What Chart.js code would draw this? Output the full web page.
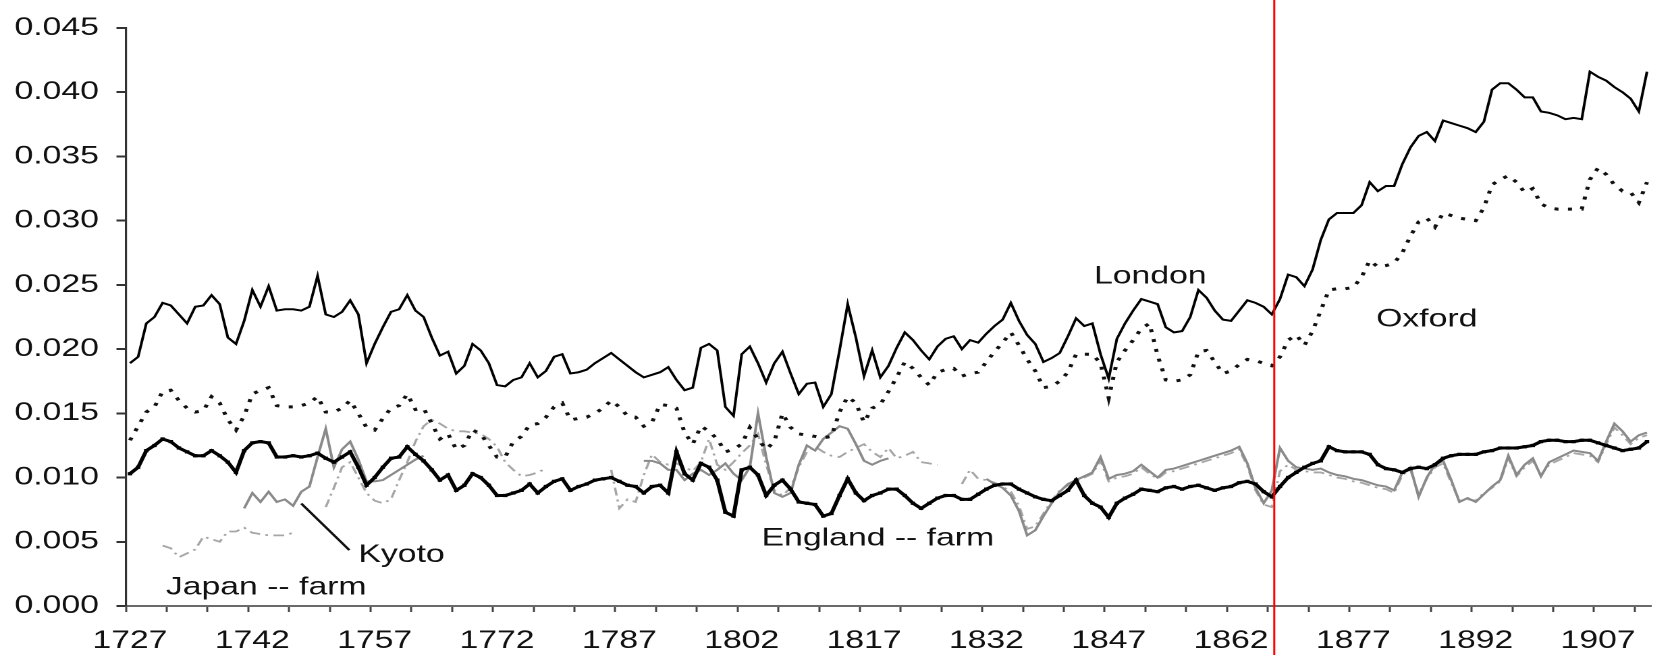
<!DOCTYPE html>
<html>
<head>
<meta charset="utf-8">
<script src="https://cdn.jsdelivr.net/npm/chart.js@4.4.1/dist/chart.umd.min.js"></script>
<style>
  html, body { margin: 0; padding: 0; background: #fff; overflow: hidden; width: 1663px; height: 655px; }
  #wrap { position: absolute; left: 0; top: 0; width: 1234px; height: 655px; transform: scaleX(1.35); transform-origin: 0 0; }
</style>
</head>
<body>
<div id="wrap"><canvas id="c"></canvas></div>
<script>
// ---- categories ----
const firstYear = 1727;
const lastYear = 1913;
const years = Array.from({ length: lastYear - firstYear + 1 }, (_, i) => firstYear + i);

// ---- tick labels ----
const xTickLabels = ['1727','1742','1757','1772','1787','1802','1817','1832','1847','1862','1877','1892','1907'];
const yTickValues = [0, 0.005, 0.010, 0.015, 0.020, 0.025, 0.030, 0.035, 0.040, 0.045];

// ---- series (1727 ... 1913) ----
const london = [
  0.0189,0.0194,0.0220,0.0225,0.0236,0.0234,0.0227,0.0220,0.0233,0.0234,
  0.0242,0.0235,0.0209,0.0204,0.0222,0.0246,0.0233,0.0249,0.0230,0.0231,
  0.0231,0.0230,0.0233,0.0257,0.0227,0.0225,0.0229,0.0238,0.0227,0.0189,
  0.0204,0.0217,0.0229,0.0231,0.0242,0.0230,0.0225,0.0209,0.0195,0.0198,
  0.0181,0.0187,0.0204,0.0199,0.0189,0.0172,0.0171,0.0176,0.0178,0.0189,
  0.0178,0.0183,0.0194,0.0196,0.0181,0.0182,0.0184,0.0189,0.0193,0.0197,
  0.0192,0.0187,0.0182,0.0178,0.0180,0.0182,0.0186,0.0176,0.0168,0.0170,
  0.0201,0.0204,0.0199,0.0155,0.0148,0.0196,0.0202,0.0189,0.0174,0.0189,
  0.0198,0.0181,0.0165,0.0173,0.0174,0.0155,0.0165,0.0199,0.0235,0.0209,
  0.0179,0.0199,0.0178,0.0187,0.0201,0.0213,0.0207,0.0199,0.0192,0.0202,
  0.0208,0.0210,0.0200,0.0207,0.0205,0.0212,0.0218,0.0223,0.0236,0.0222,
  0.0211,0.0204,0.0190,0.0193,0.0197,0.0210,0.0224,0.0218,0.0220,0.0196,
  0.0177,0.0208,0.0220,0.0230,0.0239,0.0237,0.0235,0.0217,0.0213,0.0214,
  0.0225,0.0246,0.0240,0.0230,0.0223,0.0222,0.0230,0.0238,0.0236,0.0233,
  0.0227,0.0239,0.0258,0.0256,0.0249,0.0262,0.0285,0.0301,0.0306,0.0306,
  0.0306,0.0312,0.0330,0.0323,0.0327,0.0327,0.0344,0.0357,0.0366,0.0369,
  0.0362,0.0378,0.0376,0.0374,0.0372,0.0369,0.0377,0.0402,0.0407,0.0407,
  0.0402,0.0396,0.0396,0.0385,0.0384,0.0382,0.0379,0.0380,0.0379,0.0416,
  0.0412,0.0409,0.0404,0.0400,0.0395,0.0385,0.0416
];
const oxford = [
  0.0129,0.0140,0.0151,0.0155,0.0167,0.0168,0.0160,0.0154,0.0151,0.0152,
  0.0163,0.0158,0.0145,0.0137,0.0148,0.0165,0.0168,0.0170,0.0156,0.0155,
  0.0155,0.0156,0.0158,0.0163,0.0151,0.0151,0.0154,0.0160,0.0150,0.0139,
  0.0137,0.0146,0.0154,0.0156,0.0165,0.0153,0.0154,0.0142,0.0130,0.0134,
  0.0122,0.0125,0.0137,0.0134,0.0125,0.0116,0.0116,0.0128,0.0132,0.0141,
  0.0142,0.0147,0.0155,0.0158,0.0145,0.0146,0.0147,0.0150,0.0154,0.0160,
  0.0155,0.0148,0.0147,0.0140,0.0143,0.0157,0.0156,0.0154,0.0135,0.0126,
  0.0140,0.0136,0.0130,0.0120,0.0122,0.0126,0.0139,0.0130,0.0122,0.0128,
  0.0150,0.0139,0.0134,0.0133,0.0132,0.0131,0.0132,0.0151,0.0163,0.0158,
  0.0143,0.0154,0.0157,0.0167,0.0178,0.0190,0.0185,0.0178,0.0172,0.0182,
  0.0184,0.0185,0.0179,0.0181,0.0182,0.0190,0.0198,0.0205,0.0213,0.0203,
  0.0192,0.0183,0.0170,0.0171,0.0175,0.0182,0.0196,0.0196,0.0196,0.0189,
  0.0162,0.0190,0.0199,0.0207,0.0216,0.0220,0.0195,0.0176,0.0175,0.0176,
  0.0180,0.0198,0.0199,0.0190,0.0181,0.0183,0.0188,0.0192,0.0191,0.0189,
  0.0187,0.0194,0.0207,0.0211,0.0203,0.0214,0.0230,0.0246,0.0247,0.0247,
  0.0248,0.0256,0.0269,0.0264,0.0265,0.0267,0.0275,0.0288,0.0299,0.0302,
  0.0295,0.0306,0.0304,0.0302,0.0301,0.0300,0.0310,0.0328,0.0332,0.0335,
  0.0330,0.0322,0.0325,0.0313,0.0310,0.0309,0.0309,0.0309,0.0309,0.0332,
  0.0341,0.0336,0.0328,0.0323,0.0322,0.0314,0.0330
];
const englandFarm = [
  0.0103,0.0108,0.0121,0.0125,0.0130,0.0128,0.0123,0.0120,0.0117,0.0117,
  0.0121,0.0117,0.0112,0.0104,0.0121,0.0127,0.0128,0.0127,0.0116,0.0116,
  0.0117,0.0116,0.0117,0.0119,0.0115,0.0112,0.0116,0.0120,0.0108,0.0094,
  0.0100,0.0108,0.0115,0.0116,0.0124,0.0118,0.0113,0.0106,0.0098,0.0102,
  0.0090,0.0094,0.0103,0.0100,0.0094,0.0086,0.0086,0.0088,0.0090,0.0095,
  0.0088,0.0093,0.0097,0.0099,0.0090,0.0093,0.0095,0.0098,0.0099,0.0100,
  0.0097,0.0094,0.0093,0.0088,0.0093,0.0094,0.0088,0.0120,0.0103,0.0098,
  0.0111,0.0108,0.0098,0.0073,0.0070,0.0106,0.0108,0.0102,0.0086,0.0094,
  0.0098,0.0091,0.0081,0.0080,0.0079,0.0070,0.0072,0.0086,0.0099,0.0088,
  0.0082,0.0086,0.0088,0.0091,0.0091,0.0086,0.0080,0.0076,0.0080,0.0084,
  0.0086,0.0086,0.0083,0.0083,0.0087,0.0091,0.0094,0.0095,0.0095,0.0091,
  0.0088,0.0085,0.0083,0.0082,0.0086,0.0090,0.0098,0.0086,0.0080,0.0077,
  0.0069,0.0080,0.0084,0.0087,0.0091,0.0090,0.0089,0.0092,0.0093,0.0091,
  0.0093,0.0094,0.0092,0.0090,0.0092,0.0093,0.0096,0.0097,0.0095,0.0089,
  0.0085,0.0093,0.0100,0.0104,0.0108,0.0111,0.0113,0.0124,0.0121,0.0120,
  0.0120,0.0120,0.0118,0.0110,0.0107,0.0106,0.0104,0.0107,0.0108,0.0107,
  0.0110,0.0115,0.0117,0.0118,0.0118,0.0118,0.0120,0.0121,0.0123,0.0123,
  0.0123,0.0124,0.0125,0.0128,0.0129,0.0129,0.0128,0.0128,0.0129,0.0129,
  0.0127,0.0125,0.0123,0.0121,0.0122,0.0123,0.0128
];
const kyoto = [
  null,null,null,null,null,null,null,null,null,null,
  null,null,null,null,0.0076,0.0088,0.0081,0.0089,0.0081,0.0083,
  0.0078,0.0089,0.0093,0.0116,0.0138,0.0108,0.0122,0.0128,0.0114,0.0097,
  0.0097,0.0098,0.0102,0.0106,0.0110,0.0114,0.0117,null,null,null,
  null,null,null,null,null,null,null,null,null,null,
  null,null,null,null,null,null,null,null,null,null,
  null,null,null,0.0113,0.0113,0.0111,0.0106,0.0106,0.0098,0.0103,
  0.0106,0.0102,0.0106,0.0111,0.0103,0.0098,0.0108,0.0150,0.0116,0.0088,
  0.0085,0.0088,0.0110,0.0125,0.0121,0.0130,0.0135,0.0140,0.0138,0.0126,
  0.0113,0.0110,0.0113,0.0115,null,null,null,null,null,null,
  null,null,null,null,null,0.0099,0.0095,0.0092,0.0086,0.0074,
  0.0055,0.0059,0.0070,0.0080,0.0089,0.0095,0.0098,0.0101,0.0104,0.0116,
  0.0099,0.0102,0.0103,0.0105,0.0110,0.0105,0.0100,0.0106,0.0107,0.0109,
  0.0111,0.0113,0.0115,0.0117,0.0119,0.0121,0.0124,0.0111,0.0092,0.0080,
  0.0090,0.0123,0.0113,0.0108,0.0107,0.0106,0.0107,0.0104,0.0102,0.0101,
  0.0099,0.0098,0.0096,0.0094,0.0093,0.0090,0.0104,0.0108,0.0085,0.0100,
  0.0110,0.0113,0.0098,0.0081,0.0084,0.0081,0.0087,0.0093,0.0098,0.0117,
  0.0102,0.0110,0.0115,0.0101,0.0112,0.0115,0.0118,0.0121,0.0120,0.0119,
  0.0113,0.0128,0.0142,0.0136,0.0128,0.0133,0.0135
];
const japanFarm = [
  null,null,null,null,0.0047,0.0045,0.0038,0.0041,0.0044,0.0054,
  0.0052,0.0050,0.0058,0.0058,0.0061,0.0057,0.0056,0.0055,0.0055,0.0055,
  0.0057,null,null,null,0.0077,0.0092,0.0108,0.0112,0.0100,0.0088,
  0.0082,0.0080,0.0083,0.0098,0.0112,0.0128,0.0140,0.0145,0.0142,0.0138,
  0.0136,0.0136,0.0135,0.0134,0.0130,0.0124,0.0112,0.0106,0.0101,0.0102,
  0.0104,0.0107,null,null,null,null,null,null,null,0.0106,
  0.0076,0.0083,0.0081,0.0102,0.0118,0.0112,0.0110,0.0111,0.0108,0.0105,
  0.0112,0.0130,0.0110,0.0106,0.0112,0.0119,0.0125,0.0134,0.0110,0.0090,
  0.0086,0.0092,0.0108,0.0120,0.0124,0.0120,0.0117,0.0116,0.0120,0.0123,
  0.0126,0.0120,0.0116,0.0123,0.0115,0.0117,0.0120,0.0112,0.0111,0.0110,
  null,null,0.0095,0.0106,0.0099,0.0098,0.0096,0.0093,0.0089,0.0078,
  0.0060,0.0062,0.0072,0.0082,0.0090,0.0094,0.0097,0.0100,0.0103,0.0113,
  0.0097,0.0100,0.0101,0.0103,0.0108,0.0103,0.0099,0.0104,0.0105,0.0107,
  0.0109,0.0111,0.0113,0.0115,0.0117,0.0119,0.0122,0.0109,0.0090,0.0079,
  0.0077,0.0105,0.0110,0.0106,0.0105,0.0104,0.0104,0.0102,0.0100,0.0099,
  0.0097,0.0096,0.0094,0.0092,0.0091,0.0088,0.0102,0.0106,0.0087,0.0099,
  0.0108,0.0111,0.0096,0.0082,0.0083,0.0082,0.0088,0.0092,0.0097,0.0115,
  0.0101,0.0108,0.0113,0.0102,0.0110,0.0113,0.0116,0.0119,0.0118,0.0117,
  0.0112,0.0126,0.0139,0.0133,0.0126,0.0131,0.0133
];

// ---- annotations (in data coordinates) ----
const labelTexts  = ['London', 'Oxford', 'England -- farm', 'Kyoto', 'Japan -- farm'];
const labelYears  = [1852.1, 1886.0, 1818.7, 1760.3, 1743.7];
const labelValues = [0.02566, 0.02229, 0.00526, 0.00396, 0.00144];
const leaderYears  = [1748.0, 1753.9];
const leaderValues = [0.00798, 0.00435];
const redLineYear = 1867.3;

const FONT = '"Liberation Sans", Arial, sans-serif';

const annotate = {
  id: 'annotate',
  afterDatasetsDraw(chart) {
    const { ctx, scales: { x, y } } = chart;
    const px = yr => x.getPixelForValue(yr - firstYear);
    ctx.save();
    ctx.fillStyle = '#111';
    ctx.font = '25px ' + FONT;
    ctx.textAlign = 'center';
    ctx.textBaseline = 'middle';
    labelTexts.forEach((t, i) => ctx.fillText(t, px(labelYears[i]), y.getPixelForValue(labelValues[i])));
    ctx.strokeStyle = '#111';
    ctx.lineWidth = 2;
    ctx.beginPath();
    ctx.moveTo(px(leaderYears[0]), y.getPixelForValue(leaderValues[0]));
    ctx.lineTo(px(leaderYears[1]), y.getPixelForValue(leaderValues[1]));
    ctx.stroke();
    ctx.strokeStyle = '#ff0000';
    ctx.lineWidth = 1.5;
    ctx.beginPath();
    const rx = px(redLineYear);
    ctx.moveTo(rx, 0);
    ctx.lineTo(rx, chart.height);
    ctx.stroke();
    ctx.restore();
  }
};

new Chart(document.getElementById('c'), {
  type: 'line',
  data: {
    labels: years.map(String),
    datasets: [
      { label: 'England -- farm', data: englandFarm, borderColor: '#000', backgroundColor: '#000',
        borderWidth: 3, pointRadius: 2.3, pointStyle: 'rect', pointBorderWidth: 0, pointBackgroundColor: '#000', tension: 0 },
      { label: 'London', data: london, borderColor: '#000', borderWidth: 2, pointRadius: 0, tension: 0 },
      { label: 'Oxford', data: oxford, borderColor: '#111', borderWidth: 3, borderDash: [3, 7], pointRadius: 0, tension: 0 },
      { label: 'Kyoto', data: kyoto, borderColor: '#8a8a8a', borderWidth: 2, pointRadius: 0, tension: 0, spanGaps: false },
      { label: 'Japan -- farm', data: japanFarm, borderColor: '#a6a6a6', borderWidth: 1.8, borderDash: [8, 4, 2, 4], pointRadius: 0, tension: 0, spanGaps: false }
    ]
  },
  options: {
    responsive: true,
    maintainAspectRatio: false,
    animation: false,
    devicePixelRatio: 2,
    layout: { padding: { top: 27, right: 0, left: 0, bottom: 0 } },
    plugins: { legend: { display: false }, tooltip: { enabled: false } },
    scales: {
      x: {
        type: 'category',
        offset: true,
        afterFit: s => { s.height = 49; },
        border: { display: true, color: '#6a6a6a', width: 2 },
        grid: {
          offset: true,
          drawOnChartArea: false,
          drawTicks: true,
          tickLength: 6,
          tickWidth: 1.5,
          tickColor: c => (c.index % 5 === 0 ? '#444' : 'rgba(0,0,0,0)'),
          color: c => (c.index % 5 === 0 ? '#444' : 'rgba(0,0,0,0)')
        },
        ticks: {
          autoSkip: false,
          maxRotation: 0,
          minRotation: 0,
          padding: 14,
          color: '#111',
          font: { family: FONT, size: 25 },
          callback: (v, i) => (xTickLabels.includes(String(years[i])) ? String(years[i]) : '')
        }
      },
      y: {
        min: 0,
        max: 0.045,
        afterFit: s => { s.width = 93.26; },
        afterBuildTicks: s => { s.ticks = yTickValues.map(v => ({ value: v })); },
        border: { display: true, color: '#333', width: 1.6 },
        grid: { drawOnChartArea: false, drawTicks: true, tickLength: 7, tickWidth: 2, tickColor: '#333' },
        ticks: {
          padding: 13,
          color: '#111',
          font: { family: FONT, size: 25 },
          callback: v => Number(v).toFixed(3)
        }
      }
    }
  },
  plugins: [annotate]
});
</script>
</body>
</html>
